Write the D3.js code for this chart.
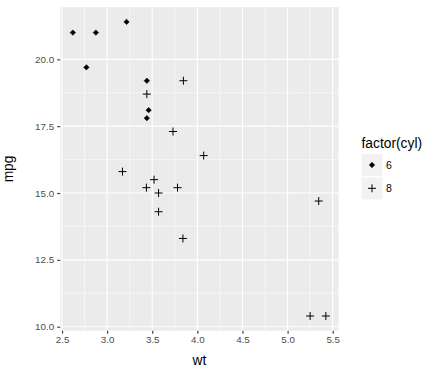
<!DOCTYPE html>
<html>
<head>
<meta charset="utf-8">
<script src="https://cdn.jsdelivr.net/npm/d3@7"></script>
<style>
  body { margin: 0; background: #fff; }
  text { font-family: "Liberation Sans", Arial, sans-serif; }
</style>
</head>
<body>
<svg id="chart" width="439" height="371"></svg>
<script>
// mtcars, cyl 6 and 8
var wt6 = [2.620, 2.875, 3.215, 3.460, 3.440, 3.440, 2.770];
var mpg6 = [21.0, 21.0, 21.4, 18.1, 19.2, 17.8, 19.7];
var wt8 = [3.440, 3.570, 4.070, 3.730, 3.780, 5.250, 5.424, 5.345, 3.520, 3.435, 3.840, 3.845, 3.170, 3.570];
var mpg8 = [18.7, 14.3, 16.4, 17.3, 15.2, 10.4, 10.4, 14.7, 15.5, 15.2, 13.3, 19.2, 15.8, 15.0];
var xTicks = [2.5, 3.0, 3.5, 4.0, 4.5, 5.0, 5.5];
var yTicks = [10.0, 12.5, 15.0, 17.5, 20.0];
var legendLabels = ['6', '8'];

var svg = d3.select('#chart');

var panel = {left: 60.2, right: 338.5, top: 7.2, bottom: 330.7};

var xScale = d3.scaleLinear().domain([2.4798, 5.5642]).range([panel.left, panel.right]);
var yScale = d3.scaleLinear().domain([9.85, 21.95]).range([panel.bottom, panel.top]);

// panel background
svg.append('rect')
  .attr('x', panel.left).attr('y', panel.top)
  .attr('width', panel.right - panel.left)
  .attr('height', panel.bottom - panel.top)
  .attr('fill', '#EBEBEB');

// minor grid
var xMinor = xTicks.slice(0, -1).map(function(d) { return d + 0.25; });
var yMinor = yTicks.slice(0, -1).map(function(d) { return d + 1.25; });
svg.selectAll('line.xminor').data(xMinor).enter().append('line')
  .attr('x1', function(d) { return xScale(d); }).attr('x2', function(d) { return xScale(d); })
  .attr('y1', panel.top).attr('y2', panel.bottom)
  .attr('stroke', '#fff').attr('stroke-width', 0.55);
svg.selectAll('line.yminor').data(yMinor).enter().append('line')
  .attr('y1', function(d) { return yScale(d); }).attr('y2', function(d) { return yScale(d); })
  .attr('x1', panel.left).attr('x2', panel.right)
  .attr('stroke', '#fff').attr('stroke-width', 0.55);

// major grid
svg.selectAll('line.xmajor').data(xTicks).enter().append('line')
  .attr('x1', function(d) { return xScale(d); }).attr('x2', function(d) { return xScale(d); })
  .attr('y1', panel.top).attr('y2', panel.bottom)
  .attr('stroke', '#fff').attr('stroke-width', 1.1);
svg.selectAll('line.ymajor').data(yTicks).enter().append('line')
  .attr('y1', function(d) { return yScale(d); }).attr('y2', function(d) { return yScale(d); })
  .attr('x1', panel.left).attr('x2', panel.right)
  .attr('stroke', '#fff').attr('stroke-width', 1.1);

// axes
var xAxis = svg.append('g')
  .attr('transform', 'translate(0,' + panel.bottom + ')')
  .call(d3.axisBottom(xScale).tickValues(xTicks).tickFormat(d3.format('.1f')).tickSize(3).tickPadding(2));
var yAxis = svg.append('g')
  .attr('transform', 'translate(' + panel.left + ',0)')
  .call(d3.axisLeft(yScale).tickValues(yTicks).tickFormat(d3.format('.1f')).tickSize(3).tickPadding(3));
[xAxis, yAxis].forEach(function(a) {
  a.select('.domain').remove();
  a.selectAll('.tick line').attr('stroke', '#333333').attr('stroke-width', 1.1);
  a.selectAll('.tick text').attr('fill', '#4D4D4D').style('font-size', '9.8px')
    .style('font-family', '"Liberation Sans", Arial, sans-serif');
});

// axis titles
svg.append('text')
  .attr('x', (panel.left + panel.right) / 2).attr('y', 364.5)
  .attr('text-anchor', 'middle').style('font-size', '13.8px').text('wt');
svg.append('text')
  .attr('transform', 'translate(12.5,' + (panel.top + panel.bottom) / 2 + ') rotate(-90)')
  .attr('text-anchor', 'middle').style('font-size', '13.8px').text('mpg');

// points
function diamondPath(s) {
  return 'M0,' + (-s) + 'L' + s + ',0L0,' + s + 'L' + (-s) + ',0Z';
}
function plusPath(s) {
  return 'M' + (-s) + ',0H' + s + 'M0,' + (-s) + 'V' + s;
}
var pts6 = wt6.map(function(w, i) { return {wt: w, mpg: mpg6[i]}; });
var pts8 = wt8.map(function(w, i) { return {wt: w, mpg: mpg8[i]}; });

svg.selectAll('path.p6').data(pts6).enter().append('path')
  .attr('d', diamondPath(2.7))
  .attr('transform', function(d) { return 'translate(' + xScale(d.wt) + ',' + yScale(d.mpg) + ')'; })
  .attr('fill', '#000').attr('stroke', '#000').attr('stroke-width', 0.6).attr('stroke-linejoin', 'round');

svg.selectAll('path.p8').data(pts8).enter().append('path')
  .attr('d', plusPath(4))
  .attr('transform', function(d) { return 'translate(' + xScale(d.wt) + ',' + yScale(d.mpg) + ')'; })
  .attr('stroke', '#000').attr('stroke-width', 1).attr('fill', 'none');

// legend
var keyW = 21, keyH = 22, keyStep = 23.3;
var legend = svg.append('g').attr('transform', 'translate(361.5,0)');
legend.append('text').attr('x', 0).attr('y', 148.3).style('font-size', '13.8px').text('factor(cyl)');
var keys = legend.selectAll('g.key').data(legendLabels).enter().append('g')
  .attr('transform', function(d, i) { return 'translate(0,' + (154 + i * keyStep) + ')'; });
keys.append('rect').attr('width', keyW).attr('height', keyH).attr('fill', '#F2F2F2');
keys.append('path')
  .attr('transform', 'translate(' + keyW / 2 + ',' + keyH / 2 + ')')
  .attr('d', function(d, i) { return i === 0 ? diamondPath(2.7) : plusPath(4); })
  .attr('fill', function(d, i) { return i === 0 ? '#000' : 'none'; })
  .attr('stroke', '#000')
  .attr('stroke-width', function(d, i) { return i === 0 ? 0.6 : 1; });
keys.append('text').attr('x', 24.5).attr('y', keyH / 2 + 3.8).style('font-size', '10.5px').text(function(d) { return d; });
</script>
</body>
</html>
